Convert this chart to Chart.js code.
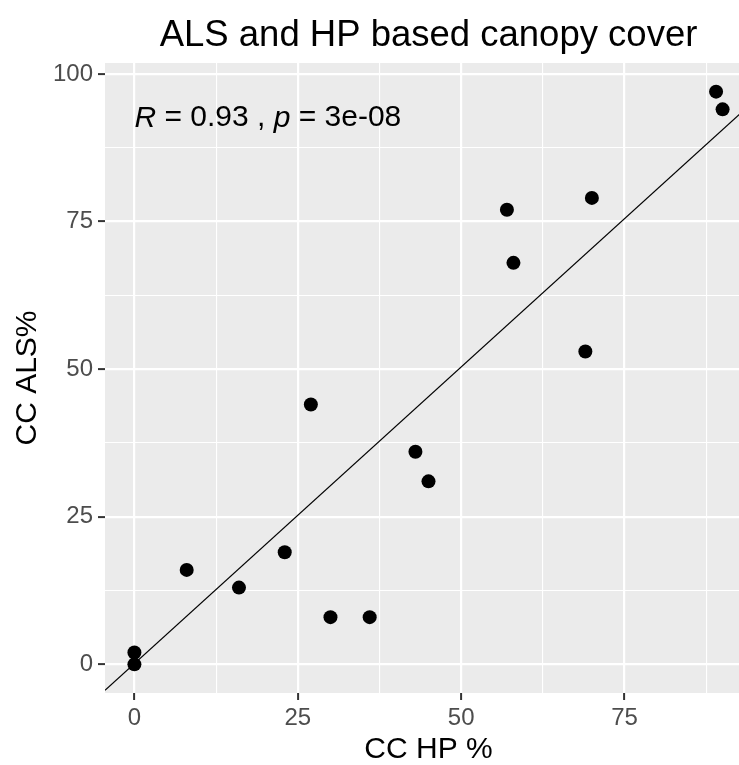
<!DOCTYPE html>
<html><head><meta charset="utf-8">
<script src="https://cdn.jsdelivr.net/npm/chart.js@4"></script>
<style>
html,body{margin:0;padding:0;overflow:hidden;background:#fff;width:739px;height:765px}
#wrap{width:752px;height:765px}
</style></head>
<body><div id="wrap"><canvas id="c" width="752" height="765"></canvas></div>
<script>
const chartTitle = 'ALS and HP based canopy cover';
const xTitle = 'CC HP %';
const yTitle = 'CC ALS%';
const ccHP  = [0, 0, 8, 16, 23, 27, 30, 36, 43, 45, 57, 58, 69, 70, 89, 90];
const ccALS = [2, 0, 16, 13, 19, 44, 8, 8, 36, 31, 77, 68, 53, 79, 97, 94];
const fitX = [-4.5, 94.5];
const fitY = [-4.4, 95.1];
const xMajorTicks = [0, 25, 50, 75];
const xMinorTicks = [12.5, 37.5, 62.5, 87.5];
const yMajorTicks = [0, 25, 50, 75, 100];
const yMinorTicks = [12.5, 37.5, 62.5, 87.5];
const xRange = [-4.5, 94.5];
const yRange = [-4.85, 101.85];
const statParts = [['R', true], [' = 0.93 , ', false], ['p', true], [' = 3e-08', false]];
const statPos = [0, 92.5];

const FAMILY = "'Liberation Sans', Arial, sans-serif";

const pointData = ccHP.map((x, i) => ({x: x, y: ccALS[i]}));
const lineData = fitX.map((x, i) => ({x: x, y: fitY[i]}));

const isMajor = (list, v) => list.some(m => Math.abs(m - v) < 1e-9);

const panelPlugin = {
  id: 'panel',
  beforeDraw(chart) {
    const {ctx, chartArea: a} = chart;
    ctx.save();
    ctx.fillStyle = '#EBEBEB';
    ctx.fillRect(a.left, a.top, a.right - a.left, a.bottom - a.top);
    ctx.restore();
  },
  afterDraw(chart) {
    const {ctx} = chart;
    const xs = chart.scales.x, ys = chart.scales.y;
    ctx.save();
    ctx.fillStyle = '#000';
    ctx.font = "36.5px " + FAMILY;
    ctx.textAlign = 'center';
    ctx.textBaseline = 'alphabetic';
    ctx.fillText(chartTitle, xs.getPixelForValue((xRange[0] + xRange[1]) / 2), 46);
    let x = xs.getPixelForValue(statPos[0]);
    const y = ys.getPixelForValue(statPos[1]);
    ctx.textAlign = 'left';
    ctx.textBaseline = 'middle';
    statParts.forEach(([t, it]) => {
      ctx.font = (it ? 'italic ' : '') + '30px ' + FAMILY;
      ctx.fillText(t, x, y);
      x += ctx.measureText(t).width;
    });
    ctx.restore();
  }
};

function gridOpts(majors) {
  return {
    color: '#FFFFFF',
    lineWidth: c => isMajor(majors, c.tick.value) ? 2.2 : 1.1,
    drawTicks: true,
    tickLength: 7,
    tickWidth: 2,
    tickColor: c => isMajor(majors, c.tick.value) ? '#333333' : 'rgba(0,0,0,0)'
  };
}

new Chart(document.getElementById('c'), {
  type: 'scatter',
  data: {
    datasets: [
      {
        label: 'points',
        data: pointData,
        backgroundColor: '#000000',
        borderWidth: 0,
        pointRadius: 7,
        pointHoverRadius: 7
      },
      {
        label: 'fit',
        data: lineData,
        showLine: true,
        borderColor: '#000000',
        borderWidth: 1.2,
        pointRadius: 0,
        fill: false
      }
    ]
  },
  options: {
    responsive: false,
    animation: false,
    devicePixelRatio: 1,
    layout: {autoPadding: false, padding: {top: 63, right: 0, left: 0, bottom: 0}},
    plugins: {legend: {display: false}, tooltip: {enabled: false}, title: {display: false}},
    scales: {
      x: {
        type: 'linear',
        min: xRange[0],
        max: xRange[1],
        afterBuildTicks(s) { s.ticks = xMajorTicks.concat(xMinorTicks).sort((a, b) => a - b).map(v => ({value: v})); },
        afterFit(s) { s.height = 72; },
        ticks: {
          autoSkip: false, maxRotation: 0, minRotation: 0, padding: 4,
          color: '#4D4D4D', font: {family: FAMILY, size: 24},
          callback: v => isMajor(xMajorTicks, v) ? String(v) : ''
        },
        grid: gridOpts(xMajorTicks),
        border: {display: false},
        title: {display: true, text: xTitle, color: '#000', font: {family: FAMILY, size: 30, lineHeight: 1}, padding: {top: 0, bottom: 0}}
      },
      y: {
        type: 'linear',
        min: yRange[0],
        max: yRange[1],
        afterBuildTicks(s) { s.ticks = yMajorTicks.concat(yMinorTicks).sort((a, b) => a - b).map(v => ({value: v})); },
        afterFit(s) { s.width = 105; },
        ticks: {
          autoSkip: false, padding: 5,
          color: '#4D4D4D', font: {family: FAMILY, size: 24},
          callback: v => isMajor(yMajorTicks, v) ? String(v) : ''
        },
        grid: gridOpts(yMajorTicks),
        border: {display: false},
        title: {display: true, text: yTitle, color: '#000', font: {family: FAMILY, size: 30, lineHeight: 1}, padding: {top: 13, bottom: 0}}
      }
    }
  },
  plugins: [panelPlugin]
});
</script>
</body></html>
